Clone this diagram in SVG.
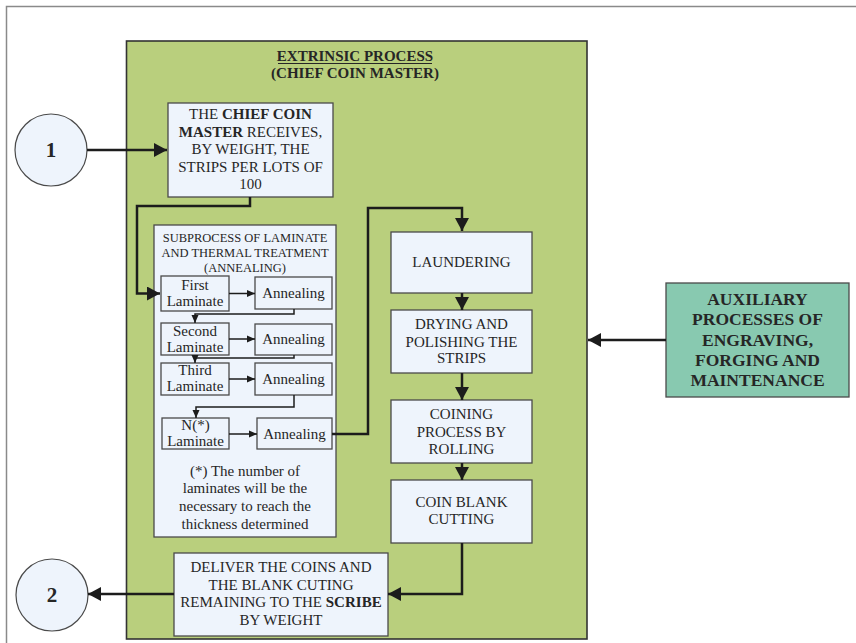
<svg xmlns="http://www.w3.org/2000/svg" width="856" height="643" viewBox="0 0 856 643">
<style>
text{font-family:"Liberation Serif","Times New Roman",serif;fill:#262626;text-anchor:middle}
.t15{font-size:15px}
.t12{font-size:12.5px}
.b{font-weight:bold}
.box{fill:#eef4fc;stroke:#4a4a4a;stroke-width:1.3}
.main{fill:none;stroke:#1c1c1c;stroke-width:2.5}
.sub{fill:none;stroke:#1c1c1c;stroke-width:1.5}
</style>
<defs>
<marker id="ah" markerUnits="userSpaceOnUse" markerWidth="14" markerHeight="14" refX="13" refY="7" orient="auto"><path d="M0,0 L13,7 L0,14 z" fill="#1c1c1c"/></marker>
<marker id="as" markerUnits="userSpaceOnUse" markerWidth="8" markerHeight="8" refX="8" refY="4" orient="auto"><path d="M0,0.5 L8,4 L0,7.5 z" fill="#1c1c1c"/></marker>
</defs>
<rect width="856" height="643" fill="#ffffff"/>
<path d="M6.5,643 V6.5 H856" fill="none" stroke="#8a8a8a" stroke-width="1.5"/>
<g id="extrinsic">
<rect x="126.5" y="41" width="460.5" height="598" fill="#b9cf7d" stroke="#333" stroke-width="1.6"/>
<text class="t15 b" x="355" y="61">EXTRINSIC PROCESS</text>
<line x1="278" y1="63.5" x2="432" y2="63.5" stroke="#262626" stroke-width="1"/>
<text class="t15 b" x="355" y="78">(CHIEF COIN MASTER)</text>
</g>
<g id="start1">
<circle cx="51" cy="150" r="36" fill="#eef4fc" stroke="#4a4a4a" stroke-width="1.2"/>
<text class="b" x="51" y="157" style="font-size:21px">1</text>
</g>
<g id="end2">
<circle cx="52" cy="595" r="36" fill="#eef4fc" stroke="#4a4a4a" stroke-width="1.2"/>
<text class="b" x="52" y="602" style="font-size:21px">2</text>
</g>
<g id="receive">
<rect class="box" x="168" y="103" width="165" height="94"/>
<text class="t15" x="250.5" y="119">THE <tspan class="b">CHIEF COIN</tspan></text>
<text class="t15" x="250.5" y="137"><tspan class="b">MASTER</tspan> RECEIVES,</text>
<text class="t15" x="250.5" y="154">BY WEIGHT, THE</text>
<text class="t15" x="250.5" y="172">STRIPS PER LOTS OF</text>
<text class="t15" x="250.5" y="189">100</text>
</g>
<g id="subprocess">
<rect class="box" x="154" y="225" width="182" height="312"/>
<text class="t12" x="245" y="242">SUBPROCESS OF LAMINATE</text>
<text class="t12" x="245" y="256.5">AND THERMAL TREATMENT</text>
<text class="t12" x="245" y="271.5">(ANNEALING)</text>
<text class="t15" x="245" y="476">(*) The number of</text>
<text class="t15" x="245" y="493">laminates will be the</text>
<text class="t15" x="245" y="511">necessary to reach the</text>
<text class="t15" x="245" y="529">thickness determined</text>
</g>
<g id="lam1"><rect class="box" x="161" y="276" width="68" height="35"/><text class="t15" x="195" y="290">First</text><text class="t15" x="195" y="306">Laminate</text></g>
<g id="ann1"><rect class="box" x="255" y="277" width="77" height="32"/><text class="t15" x="293.5" y="298">Annealing</text></g>
<g id="lam2"><rect class="box" x="161" y="323" width="68" height="32"/><text class="t15" x="195" y="336">Second</text><text class="t15" x="195" y="352">Laminate</text></g>
<g id="ann2"><rect class="box" x="255" y="324" width="77" height="31"/><text class="t15" x="293.5" y="344">Annealing</text></g>
<g id="lam3"><rect class="box" x="161" y="363" width="68" height="32"/><text class="t15" x="195" y="375">Third</text><text class="t15" x="195" y="391">Laminate</text></g>
<g id="ann3"><rect class="box" x="255" y="363" width="77" height="32"/><text class="t15" x="293.5" y="384">Annealing</text></g>
<g id="lamN"><rect class="box" x="162" y="418" width="67" height="31"/><text class="t15" x="195.5" y="430">N(*)</text><text class="t15" x="195.5" y="446">Laminate</text></g>
<g id="annN"><rect class="box" x="257" y="418" width="75" height="31"/><text class="t15" x="294.5" y="439">Annealing</text></g>
<g id="laundering"><rect class="box" x="391" y="232" width="141" height="61"/><text class="t15" x="461.5" y="267">LAUNDERING</text></g>
<g id="drying"><rect class="box" x="391" y="310" width="141" height="63"/><text class="t15" x="461.5" y="329">DRYING AND</text><text class="t15" x="461.5" y="347">POLISHING THE</text><text class="t15" x="461.5" y="363">STRIPS</text></g>
<g id="coining"><rect class="box" x="391" y="400" width="141" height="63"/><text class="t15" x="461.5" y="419">COINING</text><text class="t15" x="461.5" y="437">PROCESS BY</text><text class="t15" x="461.5" y="454">ROLLING</text></g>
<g id="cutting"><rect class="box" x="391" y="480" width="141" height="63"/><text class="t15" x="461.5" y="507">COIN BLANK</text><text class="t15" x="461.5" y="524">CUTTING</text></g>
<g id="deliver"><rect class="box" x="174" y="553" width="214" height="83"/>
<text class="t15" x="281" y="572">DELIVER THE COINS AND</text>
<text class="t15" x="281" y="590">THE BLANK CUTING</text>
<text class="t15" x="281" y="607">REMAINING TO THE <tspan class="b">SCRIBE</tspan></text>
<text class="t15" x="281" y="625">BY WEIGHT</text>
</g>
<g id="auxiliary"><rect x="666" y="283" width="183" height="114" fill="#88c9b0" stroke="#4a4a4a" stroke-width="1.3"/>
<text class="b" x="757.5" y="305" style="font-size:17.5px">AUXILIARY</text>
<text class="b" x="757.5" y="325" style="font-size:17.5px">PROCESSES OF</text>
<text class="b" x="757.5" y="346" style="font-size:17.5px">ENGRAVING,</text>
<text class="b" x="757.5" y="366" style="font-size:17.5px">FORGING AND</text>
<text class="b" x="757.5" y="386" style="font-size:17.5px">MAINTENANCE</text>
</g>
<g id="connectors">
<path class="main" d="M87,150 H167" marker-end="url(#ah)"/>
<path class="main" d="M250,197 V206 H137 V293.5 H160" marker-end="url(#ah)"/>
<path class="sub" d="M229,293.5 H255" marker-end="url(#as)"/>
<path class="sub" d="M294,309 V314 H195 V323" marker-end="url(#as)"/>
<path class="sub" d="M229,339 H255" marker-end="url(#as)"/>
<path class="sub" d="M294,355 V358 H195 V363" marker-end="url(#as)"/>
<path class="sub" d="M229,379 H255" marker-end="url(#as)"/>
<path class="sub" d="M294,395 V407 H196 V418" marker-end="url(#as)"/>
<path class="sub" d="M229,434 H257" marker-end="url(#as)"/>
<path class="main" d="M332,434 H368 V208 H462 V231" marker-end="url(#ah)"/>
<path class="main" d="M462,293 V310" marker-end="url(#ah)"/>
<path class="main" d="M462,373 V400" marker-end="url(#ah)"/>
<path class="main" d="M462,463 V480" marker-end="url(#ah)"/>
<path class="main" d="M462,543 V594 H388" marker-end="url(#ah)"/>
<path class="main" d="M174,594 H88" marker-end="url(#ah)"/>
<path class="main" d="M666,340 H588" marker-end="url(#ah)"/>
</g>
</svg>
